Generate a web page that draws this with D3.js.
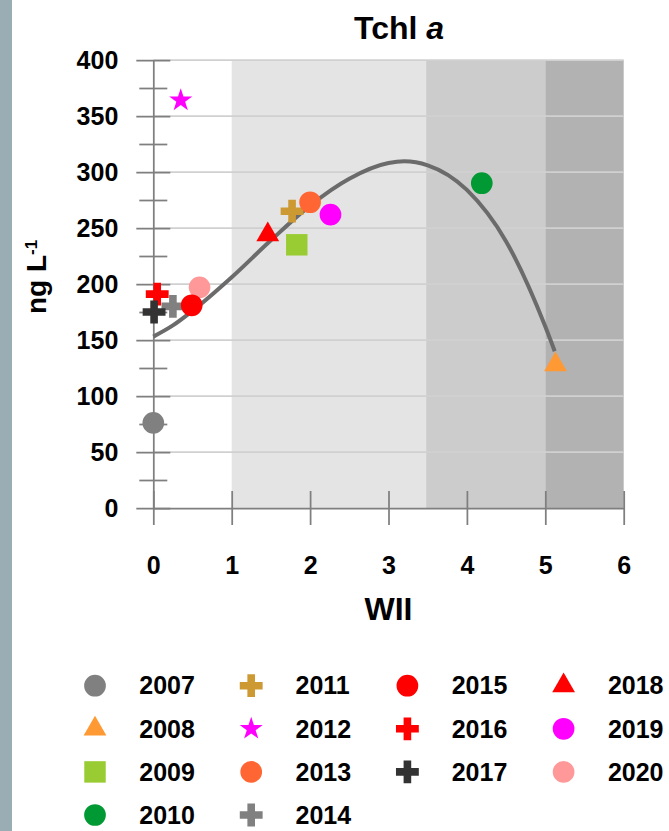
<!DOCTYPE html>
<html>
<head>
<meta charset="utf-8">
<script src="https://cdn.jsdelivr.net/npm/d3@7"></script>
<style>
    body { margin: 0; background: #fff; }
    text { font-family: "Liberation Sans", Arial, sans-serif; font-weight: bold; fill: #000; }
</style>
</head>
<body>
<svg id="chart" width="669" height="831"></svg>
<script>
// series data, one point per year
var years = ["2007", "2008", "2009", "2010", "2011", "2012", "2013",
             "2014", "2015", "2016", "2017", "2018", "2019", "2020"];
var wiiValues = [0.00, 5.13, 1.83, 4.19, 1.77, 0.35, 2.00,
                 0.25, 0.49, 0.05, 0.01, 1.46, 2.26, 0.59];
var tchlValues = [76, 128, 235, 290, 265, 364, 273,
                  180, 181, 191, 175, 244, 262, 197];

// trend curve
var curveWii = [0, 0.25, 0.5, 1, 1.5, 2, 2.5, 3, 3.2, 3.5, 4, 4.5, 5, 5.12];
var curveTchl = [153, 163, 176, 206, 239, 270, 294, 308, 309.5, 306, 284, 238, 162, 140];

// WII class limits for the shaded background
var bandStarts = [1, 3.48, 5];
var bandEnds = [3.48, 5, 6];

var xTicks = [0, 1, 2, 3, 4, 5, 6];
var yTicks = [0, 50, 100, 150, 200, 250, 300, 350, 400];
var yMinorTicks = [25, 75, 125, 175, 225, 275, 325, 375];

// marker styles per year
var seriesShapes = ["circle", "triangle", "square", "circle", "cross", "star", "circle",
                    "cross", "circle", "cross", "cross", "triangle", "circle", "circle"];
var seriesColors = ["#808080", "#ff9933", "#99cc33", "#009933", "#cc9933", "#ff00ff", "#ff6633",
                    "#808080", "#ff0000", "#ff0000", "#333333", "#ff0000", "#ff00ff", "#ff9999"];
var bandColors = ["#e4e4e4", "#cccccc", "#b2b2b2"];

var AXIS_COLOR = "#7f7f7f";
var GRID_COLOR = "#d0d0d0";
var MAJOR_TICK = 17;
var MINOR_TICK = 14;

var svg = d3.select("#chart");

var x = d3.scaleLinear().domain([0, 6]).range([153.3, 623.7]);
var y = d3.scaleLinear().domain([0, 400]).range([508, 60]);

// frame strip on the left
svg.append("rect")
    .attr("x", 0).attr("y", 0).attr("width", 12).attr("height", 831)
    .style("fill", "#9aacb4");

// background bands
svg.append("g").selectAll("rect")
    .data(bandStarts)
    .join("rect")
    .attr("x", function(d){ return x(d); })
    .attr("y", y(400))
    .attr("width", function(d, i){ return x(bandEnds[i]) - x(d); })
    .attr("height", y(0) - y(400))
    .style("fill", function(d, i){ return bandColors[i]; });

// horizontal gridlines
svg.append("g").selectAll("line")
    .data(yTicks.filter(function(d){ return d > 0; }))
    .join("line")
    .attr("x1", x(0)).attr("x2", x(6))
    .attr("y1", function(d){ return y(d); })
    .attr("y2", function(d){ return y(d); })
    .style("stroke", GRID_COLOR)
    .style("stroke-width", 1.75);

// minor y ticks (crossing the axis)
var yMinor = svg.append("g")
    .attr("transform", "translate(" + x(0) + ",0)")
    .call(d3.axisLeft(y).tickValues(yMinorTicks).tickSize(MINOR_TICK).tickSizeOuter(0).tickFormat(""));
yMinor.select(".domain").remove();
yMinor.selectAll("line").attr("x1", MINOR_TICK);

// y axis with major ticks
var yAxis = svg.append("g")
    .attr("transform", "translate(" + x(0) + ",0)")
    .call(d3.axisLeft(y).tickValues(yTicks).tickSize(MAJOR_TICK).tickSizeOuter(0).tickPadding(18));
yAxis.selectAll("line").attr("x1", MAJOR_TICK);

// x axis
var xAxis = svg.append("g")
    .attr("transform", "translate(0," + y(0) + ")")
    .call(d3.axisBottom(x).tickValues(xTicks).tickFormat(d3.format("d"))
        .tickSize(MAJOR_TICK).tickSizeOuter(0).tickPadding(31));
xAxis.selectAll("line").attr("y1", -MAJOR_TICK);

[yMinor, yAxis, xAxis].forEach(function(g){
    g.selectAll("line, .domain")
        .style("stroke", AXIS_COLOR)
        .style("stroke-width", 1.75);
});
yAxis.selectAll("text").style("font-size", "25px").attr("dy", "0.35em");
xAxis.selectAll("text").style("font-size", "25px");

// trend curve
var curvePoints = curveWii.map(function(d, i){ return [d, curveTchl[i]]; });
svg.append("path")
    .datum(curvePoints)
    .attr("d", d3.line()
        .x(function(d){ return x(d[0]); })
        .y(function(d){ return y(d[1]); })
        .curve(d3.curveMonotoneX))
    .style("fill", "none")
    .style("stroke", "#6b6b6b")
    .style("stroke-width", 4);

function symbolFor(shape) {
    if(shape == "circle") return d3.symbol(d3.symbolCircle, 370);
    if(shape == "triangle") return d3.symbol(d3.symbolTriangle, 225);
    if(shape == "square") return d3.symbol(d3.symbolSquare, 460);
    if(shape == "cross") return d3.symbol(d3.symbolCross, 290);
    return d3.symbol(d3.symbolStar, 165);
}

// points; 2020 sits under 2015 in the picture so it goes first
var drawOrder = d3.range(years.length);
drawOrder.sort(function(a, b){
    var ka = years[a] == "2020" ? -1 : a;
    var kb = years[b] == "2020" ? -1 : b;
    return ka - kb;
});
svg.append("g").selectAll("path")
    .data(drawOrder)
    .join("path")
    .attr("d", function(i){ return symbolFor(seriesShapes[i])(); })
    .attr("transform", function(i){ return "translate(" + x(wiiValues[i]) + "," + y(tchlValues[i]) + ")"; })
    .style("fill", function(i){ return seriesColors[i]; });

// titles
var title = svg.append("text")
    .attr("x", 399).attr("y", 39)
    .attr("text-anchor", "middle")
    .style("font-size", "32px")
    .text("Tchl ");
title.append("tspan").style("font-style", "italic").text("a");

svg.append("text")
    .attr("x", (x(0) + x(6)) / 2).attr("y", 620)
    .attr("text-anchor", "middle")
    .style("font-size", "32px")
    .text("WII");

var yTitle = svg.append("text")
    .attr("transform", "translate(46,277) rotate(-90)")
    .attr("text-anchor", "middle")
    .style("font-size", "28px")
    .text("ng L");
yTitle.append("tspan")
    .attr("dy", "-0.55em")
    .style("font-size", "17px")
    .text("-1");

// legend, filled column by column (4, 4, 3, 3)
function legendSlot(i) {
    if(i < 8) return {col: Math.floor(i / 4), row: i % 4};
    return {col: 2 + Math.floor((i - 8) / 3), row: (i - 8) % 3};
}

var legend = svg.append("g").selectAll("g")
    .data(years)
    .join("g")
    .attr("transform", function(d, i){
        var s = legendSlot(i);
        return "translate(" + (95 + s.col * 156.2) + "," + (685.7 + s.row * 43.1) + ")";
    });

legend.append("path")
    .attr("d", function(d, i){ return symbolFor(seriesShapes[i])(); })
    .style("fill", function(d, i){ return seriesColors[i]; });

legend.append("text")
    .attr("x", 44.3)
    .attr("dy", "0.35em")
    .style("font-size", "25px")
    .text(function(d){ return d; });
</script>
</body>
</html>
